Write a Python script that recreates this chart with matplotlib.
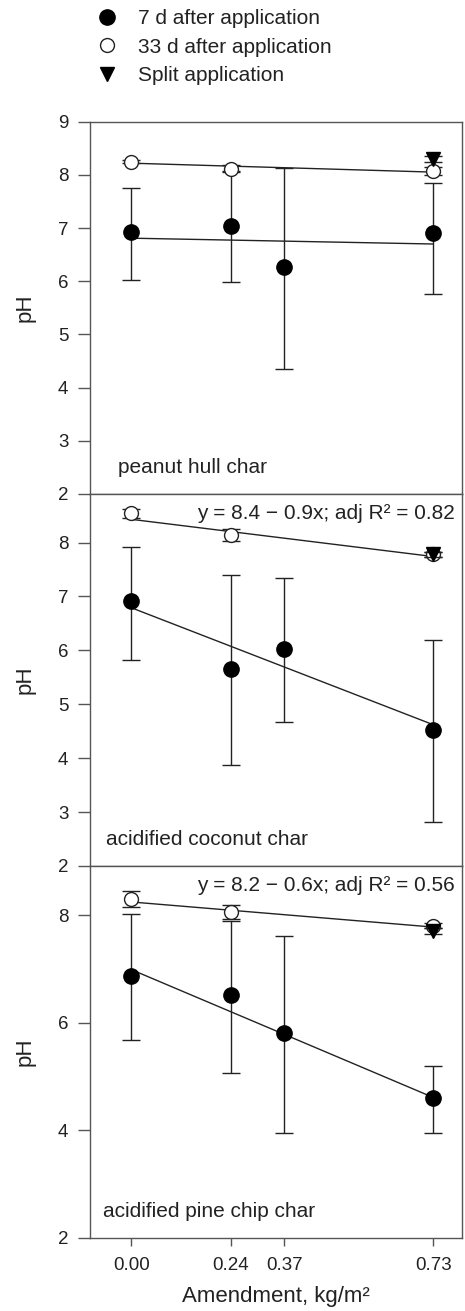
import numpy as np
import matplotlib
matplotlib.use("Agg")
import matplotlib.pyplot as plt

plt.rcParams['font.family'] = ['Liberation Sans', 'DejaVu Sans']

# amendment rates, kg/m2
rates = [0.00, 0.24, 0.37, 0.73]
rates_33d = [0.00, 0.24, 0.73]
rate_split = [0.73]

panel_names = ["peanut hull char", "acidified coconut char", "acidified pine chip char"]
equations = ["", "y = 8.4 \u2212 0.9x; adj R\u00b2 = 0.82", "y = 8.2 \u2212 0.6x; adj R\u00b2 = 0.56"]

# 7 d after application: mean, lower and upper error bar ends
ph_7d = [[6.93, 7.03, 6.27, 6.91],
         [6.91, 5.66, 6.03, 4.53],
         [6.88, 6.51, 5.80, 4.59]]
ph_7d_lo = [[6.02, 5.99, 4.35, 5.76],
            [5.83, 3.88, 4.67, 2.81],
            [5.67, 5.07, 3.94, 3.94]]
ph_7d_hi = [[7.75, 8.08, 8.13, 7.85],
            [7.91, 7.40, 7.34, 6.20],
            [8.03, 7.89, 7.61, 5.19]]

# 33 d after application
ph_33d = [[8.25, 8.12, 8.07],
          [8.54, 8.14, 7.78],
          [8.31, 8.06, 7.81]]
ph_33d_err = [[0.03, 0.06, 0.08],
              [0.08, 0.12, 0.04],
              [0.15, 0.13, 0.05]]

# split application
ph_split = [[8.30], [7.78], [7.71]]
ph_split_err = [[0.05], [0.04], [0.05]]

# regression lines (intercept, slope)
fit_7d = [(6.81, -0.15), (6.79, -2.97), (6.99, -3.26)]
fit_33d = [(8.22, -0.23), (8.43, -0.945), (8.25, -0.64)]

ylims = [(2, 9), (2, 8.9), (2, 8.92)]
yticks = [[2, 3, 4, 5, 6, 7, 8, 9], [2, 3, 4, 5, 6, 7, 8], [2, 4, 6, 8]]

ink = "#222222"
frame = "#555555"

fig = plt.figure(figsize=(4.65, 13.11), dpi=100)
tops = [1 - 121.7 / 1311, 1 - 494 / 1311, 1 - 866 / 1311]
bots = [1 - 494 / 1311, 1 - 866 / 1311, 1 - 1237.5 / 1311]
name_x = [0.075, 0.043, 0.035]

handles = []
for i in range(3):
    ax = fig.add_axes([90 / 465, bots[i], 372 / 465, tops[i] - bots[i]])
    xl = np.array([rates[0], rates[-1]])
    ax.plot(xl, fit_7d[i][0] + fit_7d[i][1] * xl, color=ink, lw=1.0, zorder=2)
    ax.plot(xl, fit_33d[i][0] + fit_33d[i][1] * xl, color=ink, lw=1.0, zorder=2)

    m = np.array(ph_7d[i])
    yerr = [m - np.array(ph_7d_lo[i]), np.array(ph_7d_hi[i]) - m]
    ax.errorbar(rates, m, yerr=yerr, fmt='none', ecolor=ink, elinewidth=1.0,
                capsize=6.5, capthick=1.0, zorder=3)
    h1, = ax.plot(rates, m, 'o', color='black', ms=11, ls='none', zorder=4)

    ax.errorbar(rates_33d, ph_33d[i], yerr=ph_33d_err[i], fmt='none', ecolor=ink,
                elinewidth=1.0, capsize=6.5, capthick=1.0, zorder=5)
    h2, = ax.plot(rates_33d, ph_33d[i], 'o', mfc='white', mec=ink, mew=1.0,
                  ms=10, ls='none', zorder=6)

    ax.errorbar(rate_split, ph_split[i], yerr=ph_split_err[i], fmt='none', ecolor=ink,
                elinewidth=1.0, capsize=6.5, capthick=1.0, zorder=7)
    h3, = ax.plot(rate_split, ph_split[i], 'v', color='black', ms=10, ls='none', zorder=8)
    if i == 0:
        handles = [h1, h2, h3]

    ax.set_xlim(-0.1, 0.8)
    ax.set_ylim(*ylims[i])
    ax.set_yticks(yticks[i])
    ax.set_ylabel("pH", fontsize=16, color=ink, labelpad=16)
    ax.tick_params(axis='y', direction='out', length=8.5, width=1.0, color=frame,
                   labelsize=13.5, labelcolor=ink, pad=7)
    for s in ax.spines.values():
        s.set_color(frame)
        s.set_linewidth(1.0)
    if i < 2:
        ax.set_xticks([])
    else:
        ax.set_xticks(rates)
        ax.set_xticklabels(["%.2f" % r for r in rates])
        ax.tick_params(axis='x', direction='out', length=6, width=1.0, color=frame,
                       labelsize=13.5, labelcolor=ink, pad=8)
        ax.set_xlabel("Amendment, kg/m\u00b2", fontsize=16, color=ink, labelpad=9)

    ax.text(name_x[i], 0.07, panel_names[i], transform=ax.transAxes,
            ha='left', va='center', fontsize=15, color=ink)
    if equations[i]:
        ax.text(0.981, 0.948, equations[i], transform=ax.transAxes,
                ha='right', va='center', fontsize=15, color=ink)

fig.legend(handles, ["7 d after application", "33 d after application", "Split application"],
           loc='upper left', bbox_to_anchor=(92 / 465, 1 - 5 / 1311), frameon=False,
           fontsize=15, handlelength=1.0, handletextpad=1.0, labelspacing=0.45,
           borderpad=0.2, labelcolor=ink, borderaxespad=0)

fig.savefig("out.png", dpi=100)
